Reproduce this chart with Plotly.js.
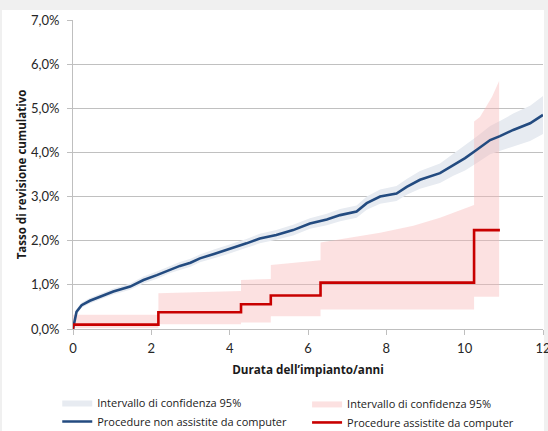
<!DOCTYPE html>
<html>
<head>
<meta charset="utf-8">
<script src="https://cdn.plot.ly/plotly-3.0.1.min.js"></script>
<style>
  html, body { margin: 0; padding: 0; background: #f0f0f0; width: 548px; height: 431px; overflow: hidden; }
  #panel { position: absolute; left: 2px; top: 10px; width: 542px; height: 421px; background: #ffffff; }
  #chart { position: absolute; left: 0; top: 0; width: 548px; height: 431px; }
</style>
</head>
<body>
<div id="panel"></div>
<div id="chart"></div>
<script>
// Non computer-assisted procedures (blue)
const blueX  = [0, 0.02, 0.09, 0.22, 0.43, 0.69, 1.03, 1.46, 1.80, 2.14, 2.48, 2.73, 3.0, 3.24, 3.6, 3.92, 4.2, 4.43, 4.77, 5.19, 5.62, 6.05, 6.48, 6.82, 7.24, 7.50, 7.84, 8.26, 8.52, 8.86, 9.37, 9.71, 10.01, 10.31, 10.65, 10.90, 11.24, 11.67, 12.0];
const blueY  = [0, 0.09, 0.39, 0.54, 0.64, 0.73, 0.85, 0.96, 1.11, 1.22, 1.35, 1.43, 1.50, 1.60, 1.70, 1.79, 1.88, 1.94, 2.05, 2.13, 2.24, 2.39, 2.48, 2.58, 2.66, 2.85, 3.00, 3.07, 3.22, 3.38, 3.53, 3.72, 3.87, 4.06, 4.28, 4.37, 4.51, 4.66, 4.85];
const blueLo = [0, 0.05, 0.33, 0.48, 0.58, 0.67, 0.78, 0.89, 1.03, 1.14, 1.27, 1.34, 1.41, 1.51, 1.60, 1.69, 1.78, 1.84, 1.94, 2.02, 2.12, 2.27, 2.35, 2.44, 2.52, 2.70, 2.84, 2.90, 3.04, 3.18, 3.31, 3.47, 3.59, 3.76, 3.96, 4.03, 4.14, 4.26, 4.42];
const blueHi = [0, 0.13, 0.45, 0.60, 0.70, 0.80, 0.92, 1.03, 1.19, 1.30, 1.43, 1.52, 1.59, 1.69, 1.80, 1.89, 1.98, 2.04, 2.16, 2.24, 2.36, 2.51, 2.61, 2.72, 2.80, 3.00, 3.16, 3.24, 3.40, 3.58, 3.75, 3.97, 4.15, 4.36, 4.60, 4.71, 4.88, 5.06, 5.28];

// Computer-assisted procedures (red), step function
const redX = [0, 0, 2.18, 4.29, 5.05, 6.32, 10.24, 10.90];
const redY = [0, 0.10, 0.38, 0.56, 0.76, 1.05, 2.24, 2.24];
const redCiX  = [0, 2.18, 2.18, 4.29, 4.29, 5.05, 5.05, 6.32, 6.32, 6.99, 7.84, 8.69, 9.37, 10.24, 10.24, 10.39, 10.55, 10.70, 10.88];
const redCiHi = [0.32, 0.32, 0.81, 0.86, 1.11, 1.13, 1.45, 1.56, 1.96, 2.05, 2.18, 2.34, 2.52, 2.81, 4.70, 4.80, 5.05, 5.26, 5.62];
const redCiLo = [0.02, 0.02, 0.11, 0.11, 0.15, 0.15, 0.29, 0.29, 0.44, 0.44, 0.44, 0.44, 0.44, 0.44, 0.73, 0.73, 0.73, 0.73, 0.73];

const legendLabels = ["Intervallo di confidenza 95%", "Procedure non assistite da computer", "Intervallo di confidenza 95%", "Procedure assistite da computer"];
const yTicks = [0, 1, 2, 3, 4, 5, 6, 7];
const yTickLabels = ["0,0%", "1,0%", "2,0%", "3,0%", "4,0%", "5,0%", "6,0%", "7,0%"];
const xTicks = [0, 2, 4, 6, 8, 10, 12];
const xTickLabels = ["0", "2", "4", "6", "8", "10", "12"];

function band(x, lo, hi) {
  return {
    x: x.concat(x.slice().reverse()),
    y: hi.concat(lo.slice().reverse())
  };
}
const bb = band(blueX, blueLo, blueHi);
const rb = band(redCiX, redCiLo, redCiHi);

const traces = [
  { x: bb.x, y: bb.y, type: 'scatter', mode: 'lines', fill: 'toself',
    fillcolor: '#e7ebf1', line: { width: 0, color: '#e7ebf1' },
    name: legendLabels[0], legend: 'legend', legendgroup: 'g1', hoverinfo: 'skip' },
  { x: rb.x, y: rb.y, type: 'scatter', mode: 'lines', fill: 'toself',
    fillcolor: 'rgba(248,180,180,0.4)', line: { width: 0, color: 'rgba(248,180,180,0.4)' },
    name: legendLabels[2], legend: 'legend2', legendgroup: 'g3', hoverinfo: 'skip' },
  { x: blueX, y: blueY, type: 'scatter', mode: 'lines',
    line: { color: '#234b80', width: 2.6 },
    name: legendLabels[1], legend: 'legend', legendgroup: 'g2' },
  { x: redX, y: redY, type: 'scatter', mode: 'lines',
    line: { color: '#c80000', width: 2.6, shape: 'hv' },
    name: legendLabels[3], legend: 'legend2', legendgroup: 'g4' }
];

const tickFont = { family: 'Lato, "Open Sans", sans-serif', size: 13, color: '#262626' };
const xTitleFont = { family: '"Open Sans", sans-serif', size: 11.7, color: '#1a1a1a', weight: 'bold' };
const yTitleFont = { family: '"Open Sans", sans-serif', size: 11.5, color: '#1a1a1a', weight: 'bold' };
const legFont = { family: '"Open Sans", sans-serif', size: 11, color: '#1a1a1a' };

// plot area: x 73..543, y 20..329 on a 548x431 page
const layout = {
  width: 548, height: 431,
  margin: { l: 73, r: 5, t: 20, b: 102, autoexpand: false },
  paper_bgcolor: 'rgba(0,0,0,0)', plot_bgcolor: 'rgba(0,0,0,0)',
  separators: ',.',
  showlegend: true,
  xaxis: {
    range: [0, 12], tickvals: xTicks, ticktext: xTickLabels,
    showgrid: false, zeroline: false,
    showline: true, linecolor: '#bfbfbf', linewidth: 1,
    ticks: 'outside', ticklen: 5, tickcolor: '#bfbfbf',
    ticklabelstandoff: 2, ticklabeloverflow: 'allow',
    tickfont: tickFont,
    title: { text: 'Durata dell’impianto/anni', font: xTitleFont, standoff: 11 }
  },
  yaxis: {
    range: [0, 7], tickvals: yTicks, ticktext: yTickLabels,
    showgrid: true, gridcolor: '#c0c0c0', gridwidth: 1, zeroline: false,
    showline: true, linecolor: '#bfbfbf', linewidth: 1,
    ticks: 'outside', ticklen: 5, tickcolor: '#bfbfbf',
    ticklabelstandoff: 5,
    tickfont: tickFont,
    title: { text: 'Tasso di revisione cumulativo', font: yTitleFont, standoff: 1 }
  },
  legend: {
    x: -0.0335, xanchor: 'left', y: -0.191, yanchor: 'top',
    orientation: 'v', traceorder: 'normal', font: legFont,
    bgcolor: 'rgba(0,0,0,0)', borderwidth: 0, tracegroupgap: 2
  },
  legend2: {
    x: 0.498, xanchor: 'left', y: -0.194, yanchor: 'top',
    orientation: 'v', traceorder: 'normal', font: legFont,
    bgcolor: 'rgba(0,0,0,0)', borderwidth: 0, tracegroupgap: 2
  }
};

Plotly.newPlot('chart', traces, layout, { displayModeBar: false, staticPlot: true });
</script>
</body>
</html>
